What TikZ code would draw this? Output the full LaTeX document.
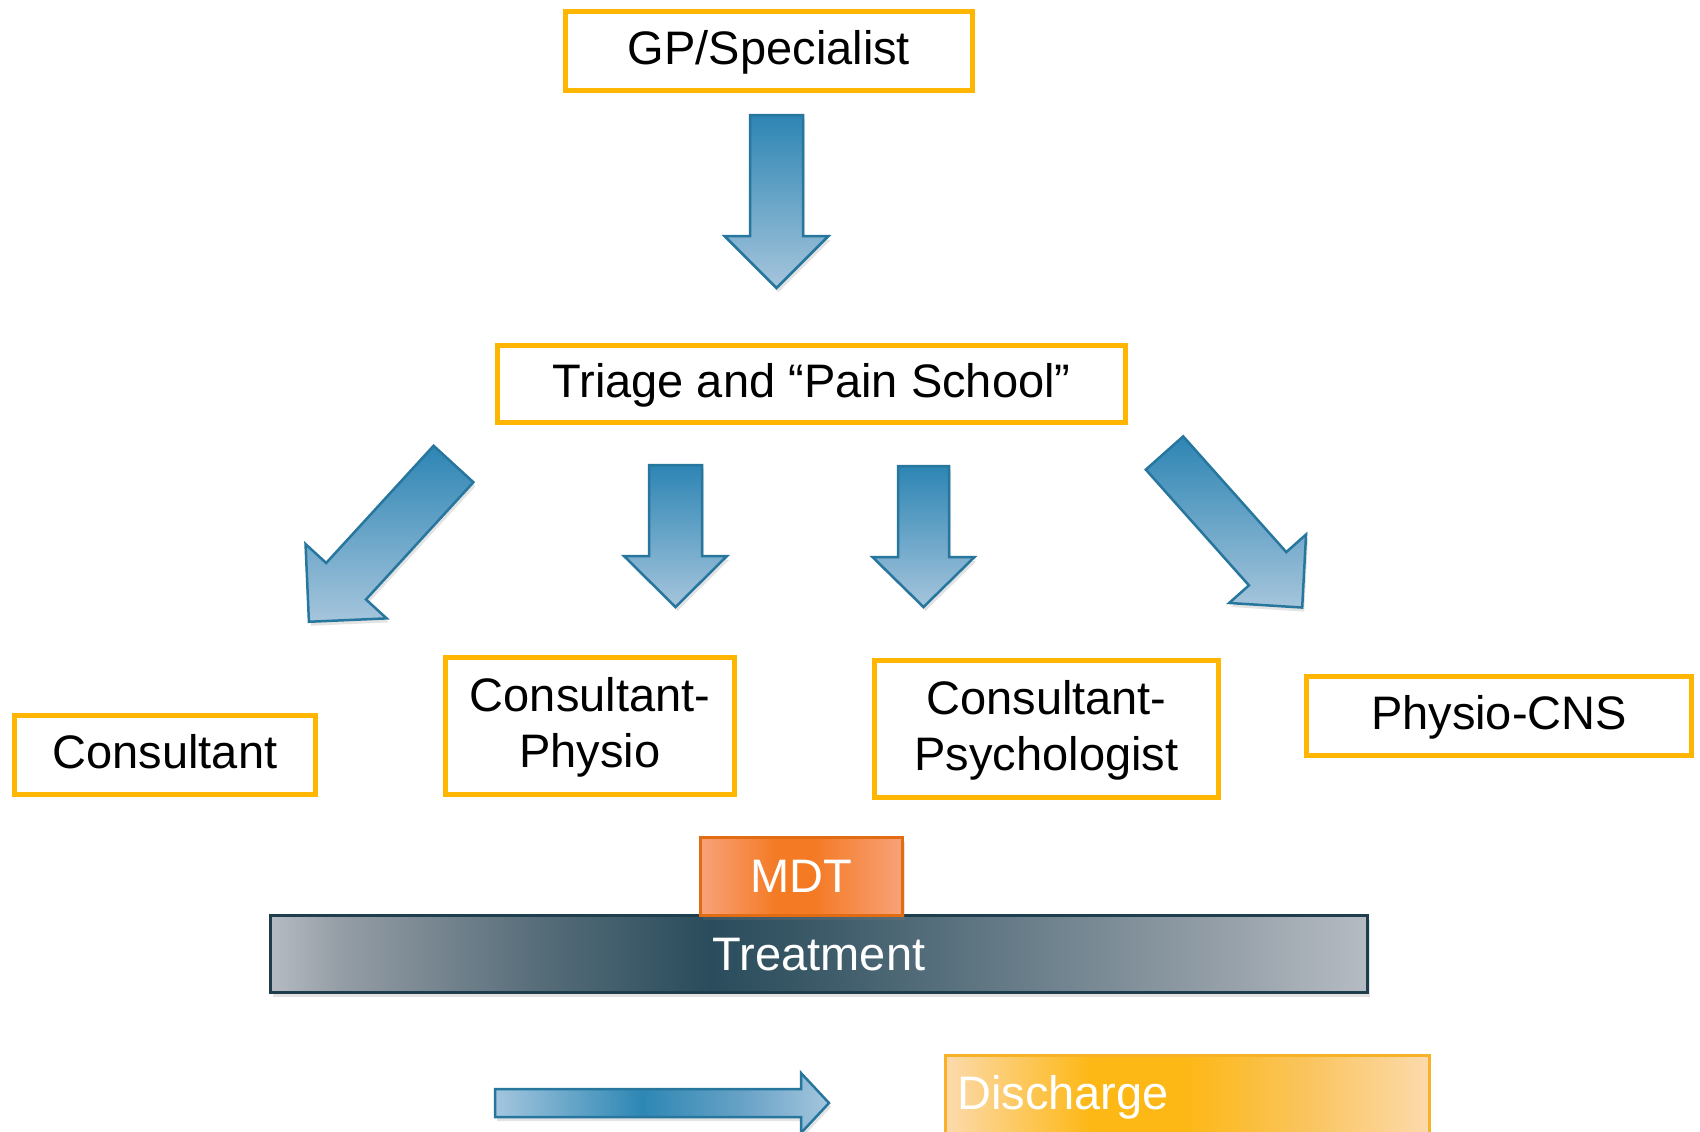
\documentclass[tikz,border=0pt]{standalone}
\usepackage{fontspec}
\setmainfont{Liberation Sans}
\usetikzlibrary{shadows}

% palette
\definecolor{boxedge}{RGB}{255,182,0}
\definecolor{arrtop}{RGB}{45,133,180}
\definecolor{arrbot}{RGB}{166,197,220}
\definecolor{arredge}{RGB}{38,118,158}
\definecolor{trA}{RGB}{182,187,195}
\definecolor{trB}{RGB}{150,158,166}
\definecolor{trC}{RGB}{88,110,122}
\definecolor{trD}{RGB}{42,76,92}
\definecolor{trE}{RGB}{60,90,104}
\definecolor{trF}{RGB}{108,128,140}
\definecolor{trG}{RGB}{152,162,170}
\definecolor{trEdge}{RGB}{30,62,78}
\definecolor{mdA}{RGB}{248,162,122}
\definecolor{mdB}{RGB}{244,122,36}
\definecolor{mdEdge}{RGB}{226,108,20}
\definecolor{dsA}{RGB}{252,218,172}
\definecolor{dsB}{RGB}{253,184,22}
\definecolor{dsC}{RGB}{250,196,92}
\definecolor{dsEdge}{RGB}{247,178,40}
\definecolor{flA}{RGB}{164,198,222}
\definecolor{flB}{RGB}{45,135,180}
\definecolor{flC}{RGB}{104,162,198}

% horizontal colour ramps (visible range 25bp..75bp)
\pgfdeclarehorizontalshading{treatshade}{100bp}{color(0bp)=(trA); color(25bp)=(trA);
  color(28bp)=(trB); color(37bp)=(trC); color(45bp)=(trD); color(50bp)=(trE);
  color(60bp)=(trF); color(69bp)=(trG); color(75bp)=(trA); color(100bp)=(trA)}
\pgfdeclarehorizontalshading{mdtshade}{100bp}{color(0bp)=(mdA); color(25bp)=(mdA);
  color(44bp)=(mdB); color(53bp)=(mdB); color(75bp)=(mdA); color(100bp)=(mdA)}
\pgfdeclarehorizontalshading{dischshade}{100bp}{color(0bp)=(dsA); color(25bp)=(dsA);
  color(40bp)=(dsB); color(50bp)=(dsB); color(62bp)=(dsC); color(75bp)=(dsA); color(100bp)=(dsA)}
\pgfdeclarehorizontalshading{flowshade}{100bp}{color(0bp)=(flA); color(25bp)=(flA);
  color(47bp)=(flB); color(62bp)=(flC); color(75bp)=(flA); color(100bp)=(flA)}

\tikzset{
  refbox/.style={draw=boxedge, line width=5pt, fill=white, inner sep=0pt,
    align=center, text=black, text depth=7pt, font=\fontsize{47}{56}\selectfont},
  whitetext/.style={inner sep=0pt, text=white, text depth=0pt, font=\fontsize{47}{56}\selectfont},
  softshadow/.style={drop shadow={opacity=0.22, shadow xshift=2pt, shadow yshift=-4pt}},
  downbody/.style={top color=arrtop, bottom color=arrbot, draw=arredge,
    line width=2.5pt, line join=miter, softshadow},
  flowbody/.style={shading=flowshade, draw=arredge, line width=2.5pt,
    line join=miter, softshadow},
  % block arrow pointing down from its tail midpoint:
  % shaft half width, shaft length, head half width, head length, style
  pics/blockarrow/.style n args={5}{code={
    \draw[#5] (-#1,0) -- (#1,0) -- (#1,#2) -- (#3,#2) -- (0,#2+#4)
      -- (-#3,#2) -- (-#1,#2) -- cycle;
  }},
}

\begin{document}
\begin{tikzpicture}[x=1pt,y=-1pt]
\useasboundingbox (0,0) rectangle (1700,1132);
\fill[white] (0,0) rectangle (1700,1132);
\clip (0,0) rectangle (1700,1132);

% referral boxes
\node[refbox, minimum width=407pt, minimum height=79pt] (gp) at (769,51) {GP/Specialist};
\node[refbox, minimum width=628pt, minimum height=77pt] (triage) at (811.5,384) {Triage and “Pain School”};
\node[refbox, minimum width=301pt, minimum height=79pt] (cons) at (165,755) {Consultant};
\node[refbox, minimum width=289pt, minimum height=137pt] (cphys) at (590,726) {Consultant-\\Physio};
\node[refbox, minimum width=344pt, minimum height=137pt] (cpsy) at (1046.5,729) {Consultant-\\Psychologist};
\node[refbox, minimum width=385pt, minimum height=79pt] (pcns) at (1499,716) {Physio-CNS};

% block arrows
\pic at (776.5,115) {blockarrow={26.5}{121}{52}{52}{downbody}};
\pic[rotate=-42.5] at (453.5,464) {blockarrow={27}{159}{55}{55}{downbody}};
\pic at (675.5,465) {blockarrow={26.5}{91}{51.5}{51}{downbody}};
\pic at (923.5,466) {blockarrow={25.5}{91}{51}{50}{downbody}};
\pic[rotate=41.7] at (1164.5,453) {blockarrow={25}{155}{51.5}{52}{downbody}};

% treatment bar with MDT tab
\node[shading=treatshade, draw=trEdge, line width=3pt, softshadow,
  minimum width=1097pt, minimum height=77pt, inner sep=0pt] (treat) at (819,954) {};
\node[whitetext] (treattext) at (treat.center) {Treatment};
\node[shading=mdtshade, draw=mdEdge, line width=3pt, softshadow,
  minimum width=202pt, minimum height=78pt, inner sep=0pt] (mdt) at (801.5,876.5) {};
\node[whitetext] (mdttext) at (mdt.center) {MDT};

% discharge
\pic[rotate=90] at (495,1103) {blockarrow={14}{306}{30}{28}{flowbody}};
\node[shading=dischshade, draw=dsEdge, line width=3pt,
  minimum width=484pt, minimum height=110pt, inner sep=0pt] (disch) at (1187.5,1110) {};
\node[whitetext, anchor=base west] (dischtext) at (957,1109) {Discharge};
\end{tikzpicture}
\end{document}
